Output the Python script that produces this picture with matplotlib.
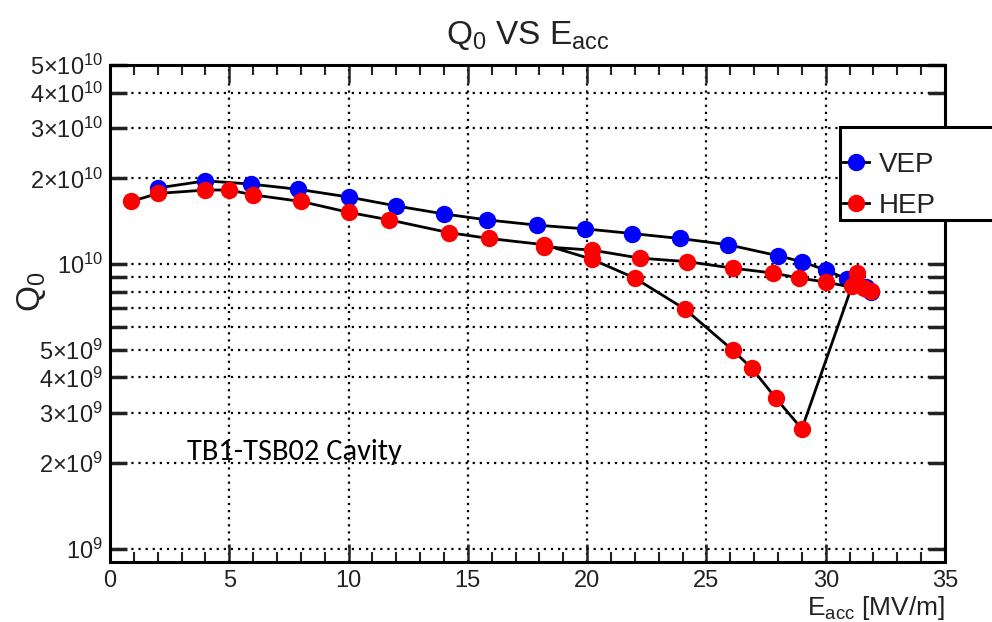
import matplotlib
matplotlib.use("Agg")
import matplotlib.pyplot as plt
from matplotlib.ticker import FixedLocator, FuncFormatter, MultipleLocator
from matplotlib.patches import Rectangle
import numpy as np

plt.rcParams['font.family'] = ['Liberation Sans', 'DejaVu Sans']
plt.rcParams['mathtext.fontset'] = 'custom'
plt.rcParams['mathtext.rm'] = 'Liberation Sans'
plt.rcParams['mathtext.it'] = 'Liberation Sans'
plt.rcParams['mathtext.bf'] = 'Liberation Sans'

# VEP data
vep_e = [2.0, 4.0, 5.9, 7.9, 10.0, 12.0, 14.0, 15.8, 17.9, 19.9, 21.9, 23.9, 25.9, 28.0, 29.0, 30.0, 30.9, 31.7, 31.9]
vep_q = [1.85e10, 1.96e10, 1.91e10, 1.83e10, 1.72e10, 1.60e10, 1.50e10, 1.43e10, 1.37e10, 1.33e10,
         1.28e10, 1.23e10, 1.17e10, 1.07e10, 1.02e10, 9.53e9, 8.86e9, 8.3e9, 7.97e9]

# HEP data (ramp up, degradation, recovery, ramp down)
hep_e = [0.9, 2.0, 4.0, 5.0, 6.0, 8.0, 10.0, 11.7, 14.2, 15.9, 18.2, 20.2,
         22.0, 24.1, 26.1, 26.9, 27.9, 29.0,
         31.1, 31.3, 31.6, 31.9,
         30.0, 28.9, 27.8, 26.1, 24.2, 22.2, 20.2, 18.2]
hep_q = [1.66e10, 1.77e10, 1.82e10, 1.82e10, 1.75e10, 1.66e10, 1.52e10, 1.43e10, 1.29e10, 1.23e10, 1.17e10, 1.04e10,
         8.93e9, 6.95e9, 4.99e9, 4.31e9, 3.39e9, 2.64e9,
         8.37e9, 9.3e9, 8.24e9, 8.04e9,
         8.65e9, 8.93e9, 9.3e9, 9.68e9, 1.02e10, 1.05e10, 1.12e10, 1.15e10]

y_ticks = [1e9, 2e9, 3e9, 4e9, 5e9, 6e9, 7e9, 8e9, 9e9, 1e10, 2e10, 3e10, 4e10, 5e10]
y_labels = {1e9: r'$10^{9}$', 2e9: r'$2{\times}10^{9}$', 3e9: r'$3{\times}10^{9}$', 4e9: r'$4{\times}10^{9}$',
            5e9: r'$5{\times}10^{9}$', 1e10: r'$10^{10}$', 2e10: r'$2{\times}10^{10}$',
            3e10: r'$3{\times}10^{10}$', 4e10: r'$4{\times}10^{10}$', 5e10: r'$5{\times}10^{10}$'}
x_ticks = [0, 5, 10, 15, 20, 25, 30, 35]


def fmt_y(v, pos):
    for k, s in y_labels.items():
        if abs(np.log10(k) - np.log10(v)) < 1e-6:
            return s
    return ''


fig = plt.figure(figsize=(9.92, 6.22), dpi=100)
ax = fig.add_axes([110/992, 1-562/622, (945-110)/992, (562-65)/622])

ax.plot(vep_e, vep_q, color='black', lw=2.0, marker='o', ms=11.5, mfc='#0000ff', mec='#0000ff',
        label='VEP', zorder=3)
ax.plot(hep_e, hep_q, color='black', lw=2.0, marker='o', ms=11.5, mfc='#ff0000', mec='#ff0000',
        label='HEP', zorder=4)

ax.set_yscale('log')
ax.set_xlim(0, 35)
ax.set_ylim(9.0e8, 5.0e10)
ax.yaxis.set_major_locator(FixedLocator(y_ticks))
ax.yaxis.set_minor_locator(FixedLocator([]))
ax.yaxis.set_major_formatter(FuncFormatter(fmt_y))
ax.xaxis.set_major_locator(FixedLocator(x_ticks))
ax.xaxis.set_minor_locator(MultipleLocator(1))

ax.tick_params(axis='both', which='both', direction='in', top=True, right=True, labelsize=17, colors='#222222')
ax.tick_params(axis='y', which='major', length=12, width=2.5, pad=5)
ax.tick_params(axis='x', which='major', length=13, width=1.8, pad=6)
ax.tick_params(axis='x', which='minor', length=7, width=1.5)

ax.grid(True, axis='both', which='major', color='black', linestyle=(0, (1, 2.2)), lw=1.6)
for gl, xv in zip(ax.get_xgridlines(), x_ticks):
    if xv in (0, 35):
        gl.set_visible(False)

for sp in ax.spines.values():
    sp.set_linewidth(2.2)

fig.text((110+945)/2/992, 1-35/622, r'$\mathregular{Q_0}$ VS $\mathregular{E_{acc}}$', ha='center', va='center',
         fontsize=24, color='#222222')
fig.text(945/992, 1-608/622, r'$\mathregular{E_{acc}}$ [MV/m]', ha='right', va='center', fontsize=19, color='#222222')
fig.text(32/992, 1-292/622, r'$\mathregular{Q_0}$', ha='center', va='center', rotation=90, fontsize=24, color='#222222')

ax.text(187/992, 1-452/622, 'TB1-TSB02 Cavity', transform=fig.transFigure, ha='left', va='center',
        fontsize=22, family=['Carlito', 'Lato', 'DejaVu Sans'], color='black')

# legend
rect = Rectangle((840/992, 1-220/622), 0.3, 93/622, transform=fig.transFigure, facecolor='white',
                 edgecolor='black', lw=2.2, zorder=10, clip_on=False)
fig.patches.append(rect)
leg = fig.legend(loc='upper left', bbox_to_anchor=(819/992, 1-128/622), frameon=False, fontsize=20,
                 handlelength=0.95, labelspacing=0.55, handletextpad=0.35, borderpad=0.35)
leg.set_zorder(11)
for t in leg.get_texts():
    t.set_color('#222222')

fig.savefig('out.png', dpi=100)
